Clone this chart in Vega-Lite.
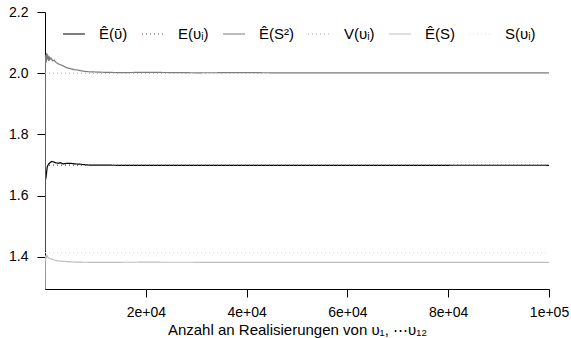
{
  "$schema": "https://vega.github.io/schema/vega-lite/v6.json",
  "width": 504,
  "height": 277,
  "autosize": {"type": "none"},
  "padding": {"left": 45, "top": 12, "right": 22, "bottom": 49},
  "background": "white",
  "config": {
    "view": {"stroke": null},
    "font": "Liberation Sans",
    "axis": {"grid": false, "domainColor": "black", "tickColor": "black", "labelColor": "black", "titleColor": "black", "labelFont": "Liberation Sans", "titleFont": "Liberation Sans", "labelFontSize": 14, "titleFontSize": 15, "titleFontWeight": "normal", "domainWidth": 1, "tickWidth": 1},
    "legend": {"labelFont": "Liberation Sans", "labelFontSize": 15, "labelColor": "black"}
  },
  "data": {"values": [
    {"n": 1, "v": 1.645, "s": "Ê(ῡ)"},
    {"n": 200, "v": 1.66, "s": "Ê(ῡ)"},
    {"n": 450, "v": 1.695, "s": "Ê(ῡ)"},
    {"n": 700, "v": 1.703, "s": "Ê(ῡ)"},
    {"n": 1000, "v": 1.708, "s": "Ê(ῡ)"},
    {"n": 1300, "v": 1.712, "s": "Ê(ῡ)"},
    {"n": 1650, "v": 1.711, "s": "Ê(ῡ)"},
    {"n": 2000, "v": 1.708, "s": "Ê(ῡ)"},
    {"n": 2640, "v": 1.706, "s": "Ê(ῡ)"},
    {"n": 3000, "v": 1.708, "s": "Ê(ῡ)"},
    {"n": 3630, "v": 1.704, "s": "Ê(ῡ)"},
    {"n": 4300, "v": 1.706, "s": "Ê(ῡ)"},
    {"n": 4960, "v": 1.706, "s": "Ê(ῡ)"},
    {"n": 6000, "v": 1.704, "s": "Ê(ῡ)"},
    {"n": 6944, "v": 1.703, "s": "Ê(ῡ)"},
    {"n": 8000, "v": 1.701, "s": "Ê(ῡ)"},
    {"n": 8929, "v": 1.7, "s": "Ê(ῡ)"},
    {"n": 12000, "v": 1.7, "s": "Ê(ῡ)"},
    {"n": 16000, "v": 1.699, "s": "Ê(ῡ)"},
    {"n": 22000, "v": 1.6995, "s": "Ê(ῡ)"},
    {"n": 30000, "v": 1.699, "s": "Ê(ῡ)"},
    {"n": 40000, "v": 1.6995, "s": "Ê(ῡ)"},
    {"n": 50000, "v": 1.6992, "s": "Ê(ῡ)"},
    {"n": 60000, "v": 1.6995, "s": "Ê(ῡ)"},
    {"n": 70000, "v": 1.6993, "s": "Ê(ῡ)"},
    {"n": 80000, "v": 1.6995, "s": "Ê(ῡ)"},
    {"n": 90000, "v": 1.6996, "s": "Ê(ῡ)"},
    {"n": 100000, "v": 1.6995, "s": "Ê(ῡ)"},
    {"n": 0, "v": 1.7, "s": "E(υᵢ)"},
    {"n": 100000, "v": 1.7, "s": "E(υᵢ)"},
    {"n": 1, "v": 1.42, "s": "Ê(S²)"},
    {"n": 60, "v": 2.03, "s": "Ê(S²)"},
    {"n": 150, "v": 2.06, "s": "Ê(S²)"},
    {"n": 250, "v": 2.035, "s": "Ê(S²)"},
    {"n": 350, "v": 2.066, "s": "Ê(S²)"},
    {"n": 450, "v": 2.045, "s": "Ê(S²)"},
    {"n": 550, "v": 2.06, "s": "Ê(S²)"},
    {"n": 700, "v": 2.04, "s": "Ê(S²)"},
    {"n": 850, "v": 2.055, "s": "Ê(S²)"},
    {"n": 1000, "v": 2.045, "s": "Ê(S²)"},
    {"n": 1200, "v": 2.05, "s": "Ê(S²)"},
    {"n": 1500, "v": 2.04, "s": "Ê(S²)"},
    {"n": 1800, "v": 2.043, "s": "Ê(S²)"},
    {"n": 2200, "v": 2.035, "s": "Ê(S²)"},
    {"n": 2700, "v": 2.03, "s": "Ê(S²)"},
    {"n": 3000, "v": 2.028, "s": "Ê(S²)"},
    {"n": 3500, "v": 2.025, "s": "Ê(S²)"},
    {"n": 4300, "v": 2.018, "s": "Ê(S²)"},
    {"n": 5000, "v": 2.015, "s": "Ê(S²)"},
    {"n": 5800, "v": 2.012, "s": "Ê(S²)"},
    {"n": 6600, "v": 2.01, "s": "Ê(S²)"},
    {"n": 7500, "v": 2.007, "s": "Ê(S²)"},
    {"n": 8500, "v": 2.005, "s": "Ê(S²)"},
    {"n": 10000, "v": 2.004, "s": "Ê(S²)"},
    {"n": 12000, "v": 2.003, "s": "Ê(S²)"},
    {"n": 15000, "v": 2.002, "s": "Ê(S²)"},
    {"n": 20000, "v": 2.003, "s": "Ê(S²)"},
    {"n": 30000, "v": 2.0015, "s": "Ê(S²)"},
    {"n": 40000, "v": 2.002, "s": "Ê(S²)"},
    {"n": 50000, "v": 2.001, "s": "Ê(S²)"},
    {"n": 60000, "v": 2.0015, "s": "Ê(S²)"},
    {"n": 70000, "v": 2.001, "s": "Ê(S²)"},
    {"n": 80000, "v": 2.0012, "s": "Ê(S²)"},
    {"n": 90000, "v": 2.001, "s": "Ê(S²)"},
    {"n": 100000, "v": 2.001, "s": "Ê(S²)"},
    {"n": 0, "v": 2.0, "s": "V(υᵢ)"},
    {"n": 100000, "v": 2.0, "s": "V(υᵢ)"},
    {"n": 1, "v": 1.2, "s": "Ê(S)"},
    {"n": 60, "v": 1.405, "s": "Ê(S)"},
    {"n": 200, "v": 1.395, "s": "Ê(S)"},
    {"n": 400, "v": 1.405, "s": "Ê(S)"},
    {"n": 600, "v": 1.398, "s": "Ê(S)"},
    {"n": 900, "v": 1.395, "s": "Ê(S)"},
    {"n": 1300, "v": 1.393, "s": "Ê(S)"},
    {"n": 1800, "v": 1.39, "s": "Ê(S)"},
    {"n": 2600, "v": 1.387, "s": "Ê(S)"},
    {"n": 3600, "v": 1.386, "s": "Ê(S)"},
    {"n": 5000, "v": 1.384, "s": "Ê(S)"},
    {"n": 7000, "v": 1.383, "s": "Ê(S)"},
    {"n": 10000, "v": 1.3825, "s": "Ê(S)"},
    {"n": 20000, "v": 1.383, "s": "Ê(S)"},
    {"n": 40000, "v": 1.3825, "s": "Ê(S)"},
    {"n": 60000, "v": 1.3827, "s": "Ê(S)"},
    {"n": 80000, "v": 1.3826, "s": "Ê(S)"},
    {"n": 100000, "v": 1.3826, "s": "Ê(S)"},
    {"n": 0, "v": 1.4142, "s": "S(υᵢ)"},
    {"n": 100000, "v": 1.4142, "s": "S(υᵢ)"}
  ]},
  "mark": {"type": "line", "clip": true, "strokeWidth": 1.2},
  "encoding": {
    "x": {"field": "n", "type": "quantitative",
      "scale": {"domain": [0, 100000], "nice": false, "zero": false},
      "axis": {"values": [20000, 40000, 60000, 80000, 100000],
        "labelExpr": "datum.value == 20000 ? '2e+04' : datum.value == 40000 ? '4e+04' : datum.value == 60000 ? '6e+04' : datum.value == 80000 ? '8e+04' : '1e+05'",
        "tickSize": 8, "labelPadding": 8, "labelFlush": false, "labelOverlap": false,
        "title": "Anzahl an Realisierungen von υ₁, ⋯υ₁₂", "titlePadding": 3}},
    "y": {"field": "v", "type": "quantitative",
      "scale": {"domain": [1.2955, 2.2], "nice": false, "zero": false},
      "axis": {"values": [1.4, 1.6, 1.8, 2.0, 2.2], "format": ".1f", "tickSize": 8, "labelPadding": 9, "title": null, "labelFlush": false}},
    "color": {"field": "s", "type": "nominal",
      "scale": {"domain": ["Ê(ῡ)", "E(υᵢ)", "Ê(S²)", "V(υᵢ)", "Ê(S)", "S(υᵢ)"],
        "range": ["#000000", "#555555", "#7a7a7a", "#aaaaaa", "#bdbdbd", "#dddddd"]},
      "legend": {"title": null, "orient": "none", "legendX": 17, "legendY": 10, "direction": "horizontal", "columns": 6, "symbolType": "stroke", "symbolSize": 484, "symbolStrokeWidth": 1.2, "labelOffset": 13, "columnPadding": 11}},
    "strokeDash": {"field": "s", "type": "nominal",
      "scale": {"domain": ["Ê(ῡ)", "E(υᵢ)", "Ê(S²)", "V(υᵢ)", "Ê(S)", "S(υᵢ)"],
        "range": [[1, 0], [1, 3], [1, 0], [1, 3], [1, 0], [1, 3]]},
      "legend": {"title": null, "orient": "none", "legendX": 17, "legendY": 10, "direction": "horizontal", "columns": 6, "symbolType": "stroke", "symbolSize": 484, "symbolStrokeWidth": 1.2, "labelOffset": 13, "columnPadding": 11}}
  }
}
